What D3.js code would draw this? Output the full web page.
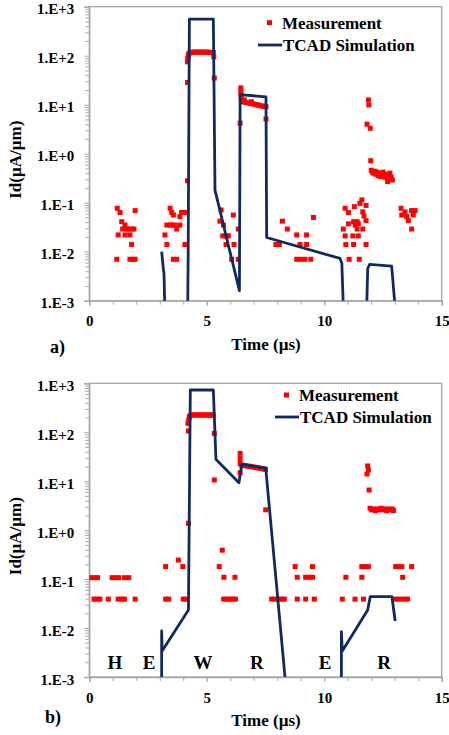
<!DOCTYPE html>
<html>
<head>
<meta charset="utf-8">
<script src="https://cdn.jsdelivr.net/npm/d3@7"></script>
<style>
  body { margin: 0; background: #fff; }
  svg text { font-family: "Liberation Serif", "Times New Roman", serif; font-weight: bold; }
</style>
</head>
<body>
<svg width="449" height="735"></svg>
<script>
// axis ticks
const timeTicks = [0, 5, 10, 15];
const idTicks = [1e-3, 1e-2, 1e-1, 1e0, 1e1, 1e2, 1e3];
const idTickLabels = ["1.E-3", "1.E-2", "1.E-1", "1.E+0", "1.E+1", "1.E+2", "1.E+3"];
const legendLabels = ["Measurement", "TCAD Simulation"];
const phaseLabels = ["H", "E", "W", "R", "E", "R"];
const phaseTimes = [1.09, 2.54, 4.84, 7.13, 10.04, 12.55];

// panel a) measurement [time µs, Id µA/µm]
const measA = [
  [1.19, 0.077], [1.31, 0.063], [1.38, 0.041], [1.52, 0.035], [1.42, 0.029], [1.59, 0.029],
  [1.66, 0.029], [1.8, 0.029], [1.9, 0.029], [1.95, 0.069], [1.23, 0.022], [1.52, 0.022],
  [1.73, 0.022], [1.8, 0.014], [1.17, 0.007], [1.73, 0.007], [1.84, 0.007], [1.95, 0.007],
  [3.44, 0.077], [3.51, 0.063], [3.58, 0.056], [3.93, 0.063], [3.97, 0.063], [4.07, 0.063],
  [3.86, 0.052], [3.3, 0.035], [3.44, 0.035], [3.51, 0.035], [3.65, 0.035], [3.86, 0.035],
  [3.72, 0.029], [3.22, 0.022], [3.3, 0.014], [4.07, 0.014], [3.58, 0.007], [3.72, 0.007],
  [4.18, 0.28], [4.18, 28.5], [4.18, 75], [4.19, 88], [4.21, 100], [4.23, 108], [4.27, 114],
  [4.33, 117], [4.4, 118], [4.48, 118], [4.56, 119], [4.64, 118], [4.72, 118], [4.8, 119],
  [4.88, 118], [4.96, 118], [5.04, 118], [5.12, 117], [5.2, 117], [5.28, 116], [5.3, 95],
  [5.32, 35],
  [5.61, 0.071], [6.13, 0.056], [5.56, 0.042], [5.71, 0.035], [6.34, 0.029], [5.68, 0.021],
  [5.8, 0.021], [5.92, 0.021], [5.82, 0.014], [6.16, 0.014], [6.06, 0.007], [6.34, 0.007],
  [6.42, 4.2], [6.45, 22], [6.45, 19], [6.46, 16], [6.47, 13.5], [6.5, 12], [6.56, 11.5],
  [6.6, 12.5], [6.64, 11.2], [6.72, 11], [6.8, 10.8], [6.88, 10.6], [6.9, 11.5], [6.96, 10.4],
  [7.04, 10.2], [7.12, 10], [7.2, 9.8], [7.28, 9.6], [7.36, 9.4], [7.44, 9.2], [7.52, 9.1],
  [7.52, 5.1],
  [8.22, 0.042], [8.43, 0.029], [8.83, 0.022], [9.25, 0.022], [9.54, 0.05], [7.94, 0.014],
  [8.09, 0.014], [8.97, 0.014], [9.25, 0.014], [8.83, 0.007], [9.01, 0.007], [9.18, 0.007],
  [9.43, 0.007],
  [10.89, 0.077], [11.03, 0.063], [11.28, 0.083], [11.52, 0.097], [11.6, 0.114], [11.78, 0.088],
  [11.64, 0.065], [11.69, 0.054], [11.78, 0.043], [11.03, 0.037], [11.25, 0.041], [11.4, 0.041],
  [11.32, 0.035], [11.45, 0.037], [10.81, 0.029], [11.4, 0.029], [11.64, 0.029], [10.89, 0.021],
  [11.22, 0.021], [11.45, 0.021], [10.92, 0.014], [11.25, 0.014], [11.78, 0.014], [11.06, 0.007],
  [11.49, 0.007],
  [11.88, 12.5], [11.9, 9.9], [11.82, 4.0], [11.96, 3.3], [11.98, 0.72],
  [12.0, 0.46], [12.05, 0.42], [12.1, 0.4], [12.15, 0.44], [12.2, 0.38], [12.25, 0.42],
  [12.3, 0.36], [12.35, 0.4], [12.4, 0.34], [12.45, 0.38], [12.5, 0.42], [12.55, 0.36],
  [12.6, 0.33], [12.65, 0.38], [12.7, 0.3], [12.75, 0.35], [12.8, 0.4], [12.85, 0.33],
  [12.9, 0.29], [12.7, 0.27],
  [13.27, 0.077], [13.44, 0.065], [13.72, 0.069], [13.87, 0.069], [13.3, 0.056], [13.51, 0.052],
  [13.79, 0.056], [13.58, 0.043], [13.72, 0.029]
];

// panel a) TCAD simulation, one array per drawn segment
const simA1 = [[3.08, 0.01], [3.15, 0.0045], [3.18, 0.0036], [3.21, 0.0008]];
const simA2 = [
  [4.19, 0.0008], [4.21, 0.011], [4.26, 560], [5.28, 560], [5.35, 0.18], [6.39, 0.0016],
  [6.42, 16], [7.52, 14.5], [7.55, 0.0195], [10.67, 0.0073], [10.75, 0.0058], [10.81, 0.0008]
];
const simA3 = [[11.81, 0.0008], [11.85, 0.0045], [11.93, 0.0055], [12.87, 0.0051], [13.01, 0.0008]];

// panel b) measurement
const measB = [
  [0.05, 0.107], [0.2, 0.107], [0.35, 0.107], [0.97, 0.107], [1.1, 0.107], [1.25, 0.107],
  [1.5, 0.107], [1.68, 0.107],
  [0.2, 0.039], [0.33, 0.039], [0.45, 0.039], [0.81, 0.039], [1.23, 0.039], [1.38, 0.039],
  [1.5, 0.039], [1.95, 0.039], [3.25, 0.039], [3.38, 0.039], [4.0, 0.039], [4.1, 0.039],
  [3.25, 0.18], [3.79, 0.245], [3.98, 0.18], [4.22, 1.38],
  [4.22, 106], [4.2, 152], [4.23, 178], [4.26, 208], [4.3, 222], [4.36, 225], [4.44, 226],
  [4.52, 225], [4.6, 226], [4.68, 225], [4.76, 225], [4.84, 226], [4.92, 225], [5.0, 225],
  [5.08, 224], [5.16, 225], [5.24, 224], [5.28, 222], [5.32, 95], [5.32, 10.6],
  [5.66, 0.39], [5.53, 0.18], [5.73, 0.109], [6.2, 0.109], [5.72, 0.039], [5.85, 0.039],
  [5.98, 0.039], [6.1, 0.039], [6.22, 0.039],
  [6.42, 37], [6.42, 29], [6.42, 23], [6.42, 14.9], [6.47, 21.4], [6.55, 21], [6.63, 20.8],
  [6.71, 20.5], [6.79, 20.2], [6.87, 20], [6.95, 19.6], [7.03, 19.3], [7.11, 19], [7.19, 18.7],
  [7.27, 18.4], [7.35, 18.1], [7.43, 17.8], [7.5, 17.5], [7.51, 2.6],
  [7.76, 0.039], [7.9, 0.039], [8.05, 0.039], [8.2, 0.039], [8.3, 0.039],
  [8.76, 0.18], [8.85, 0.109], [8.85, 0.039], [9.5, 0.18], [9.21, 0.109], [9.35, 0.109],
  [9.5, 0.109], [9.21, 0.039], [9.58, 0.039],
  [11.6, 0.18], [11.75, 0.18], [11.88, 0.18], [10.92, 0.109], [11.6, 0.109], [10.77, 0.039],
  [11.31, 0.039], [11.67, 0.039],
  [11.85, 20.5], [11.88, 17], [11.82, 14], [11.91, 6.6],
  [11.95, 2.8], [12.02, 2.6], [12.1, 2.7], [12.18, 2.5], [12.26, 2.7], [12.34, 2.6], [12.42, 2.8],
  [12.5, 2.6], [12.58, 2.7], [12.66, 2.5], [12.74, 2.7], [12.82, 2.6], [12.9, 2.7], [12.95, 2.5],
  [13.04, 0.18], [13.15, 0.18], [13.3, 0.18], [13.72, 0.18], [13.34, 0.109], [13.04, 0.039],
  [13.2, 0.039], [13.4, 0.039], [13.55, 0.039]
];

// panel b) TCAD simulation
const simB1 = [
  [3.08, 0.0005], [3.08, 0.0087], [3.1, 0.0034], [4.22, 0.0234], [4.3, 730], [5.28, 730],
  [5.39, 28], [6.37, 9.3], [6.49, 22], [7.51, 18.4], [8.33, 0.001]
];
const simB2 = [
  [10.73, 0.0005], [10.73, 0.0084], [10.77, 0.0034], [11.85, 0.0234], [11.96, 0.044],
  [12.88, 0.044], [13.02, 0.0139]
];

const svg = d3.select("svg");
const left = 89.3, right = 441.7;
const x = d3.scaleLinear().domain([0, 15]).range([left, right]);

const panels = [
  { id: "a", top: 6.7, bottom: 300.7, meas: measA, sim: [simA1, simA2, simA3],
    legX: 282, legY: [22.7, 45], letterY: 347, phases: false },
  { id: "b", top: 383.3, bottom: 677, meas: measB, sim: [simB1, simB2],
    legX: 299, legY: [395, 417], letterY: 717, phases: true }
];

const minorDecades = [];
for (let e = -3; e < 3; e++) for (let k = 2; k < 10; k++) minorDecades.push(k * Math.pow(10, e));

panels.forEach((p) => {
  const y = d3.scaleLog().domain([1e-3, 1e3]).range([p.bottom, p.top]);
  const g = svg.append("g").attr("class", "panel-" + p.id);

  g.append("defs").append("clipPath").attr("id", "clip-" + p.id)
    .append("rect").attr("x", left).attr("y", p.top)
    .attr("width", right - left).attr("height", p.bottom - p.top);

  // frame
  g.append("rect")
    .attr("x", left).attr("y", p.top)
    .attr("width", right - left).attr("height", p.bottom - p.top)
    .attr("fill", "none").attr("stroke", "#a6a6a6").attr("stroke-width", 1.3);

  // y axis
  g.append("g").attr("transform", `translate(${left},0)`)
    .call(d3.axisLeft(y).tickValues(minorDecades).tickSize(4).tickFormat(""))
    .call((s) => s.select(".domain").remove())
    .selectAll("line").attr("stroke", "#a6a6a6");
  const ya = g.append("g").attr("transform", `translate(${left},0)`)
    .call(d3.axisLeft(y).tickValues(idTicks).tickSize(5).tickPadding(10)
      .tickFormat((d, i) => idTickLabels[i]));
  ya.select(".domain").attr("stroke", "#a6a6a6").attr("stroke-width", 1.3);
  ya.selectAll("line").attr("stroke", "#a6a6a6");
  ya.selectAll("text").attr("font-size", 15).attr("fill", "#000").attr("dy", "0.47em")
    .style("font-family", '"Liberation Serif", serif').style("font-weight", "bold");

  // x axis
  g.append("g").attr("transform", `translate(0,${p.bottom})`)
    .call(d3.axisBottom(x).tickValues(d3.range(0, 16)).tickSize(4).tickFormat(""))
    .call((s) => s.select(".domain").remove())
    .selectAll("line").attr("stroke", "#a6a6a6");
  const xa = g.append("g").attr("transform", `translate(0,${p.bottom})`)
    .call(d3.axisBottom(x).tickValues(timeTicks).tickSize(5).tickPadding(10));
  xa.select(".domain").attr("stroke", "#a6a6a6").attr("stroke-width", 1.3);
  xa.selectAll("line").attr("stroke", "#a6a6a6");
  xa.selectAll("text").attr("font-size", 15).attr("fill", "#000")
    .style("font-family", '"Liberation Serif", serif').style("font-weight", "bold");

  g.append("text")
    .attr("x", 266).attr("y", p.bottom + 49)
    .attr("text-anchor", "middle").attr("font-size", 17)
    .text("Time (µs)");

  g.append("text")
    .attr("transform", `translate(21,${(p.top + p.bottom) / 2 + 6}) rotate(-90)`)
    .attr("text-anchor", "middle").attr("font-size", 17)
    .text("Id(µA/µm)");

  g.append("text")
    .attr("x", p.id === "a" ? 50 : 45).attr("y", p.letterY + 6)
    .attr("font-size", 18)
    .text(p.id + ")");

  // data
  const plot = g.append("g").attr("clip-path", `url(#clip-${p.id})`);
  plot.selectAll("rect.meas")
    .data(p.meas)
    .enter()
    .append("rect")
    .attr("class", "meas")
    .attr("x", (d) => x(d[0]) - 2.5)
    .attr("y", (d) => y(d[1]) - 2.5)
    .attr("width", 5).attr("height", 5)
    .attr("fill", "#ff0000");

  const line = d3.line().x((d) => x(d[0])).y((d) => y(d[1]));
  plot.selectAll("path.sim")
    .data(p.sim)
    .enter()
    .append("path")
    .attr("class", "sim")
    .attr("d", line)
    .attr("fill", "none")
    .attr("stroke", "#0f2a62")
    .attr("stroke-width", 2.8)
    .attr("stroke-linejoin", "round");

  if (p.phases) {
    g.selectAll("text.phase")
      .data(phaseLabels)
      .enter()
      .append("text")
      .attr("class", "phase")
      .attr("x", (d, i) => x(phaseTimes[i]))
      .attr("y", y(0.002) + 7)
      .attr("text-anchor", "middle")
      .attr("font-size", 19)
      .text((d) => d);
  }

  // legend
  const lg = g.append("g");
  lg.append("rect")
    .attr("x", p.legX - 15).attr("y", p.legY[0] - 2.5)
    .attr("width", 5).attr("height", 5).attr("fill", "#ff0000");
  lg.append("line")
    .attr("x1", p.legX - 24).attr("x2", p.legX)
    .attr("y1", p.legY[1]).attr("y2", p.legY[1])
    .attr("stroke", "#0f2a62").attr("stroke-width", 2.8);
  lg.selectAll("text")
    .data(legendLabels)
    .enter()
    .append("text")
    .attr("x", (d, i) => p.legX + (i === 1 ? 1 : 0))
    .attr("y", (d, i) => p.legY[i] + 6)
    .attr("font-size", 17)
    .text((d) => d);
});
</script>
</body>
</html>
